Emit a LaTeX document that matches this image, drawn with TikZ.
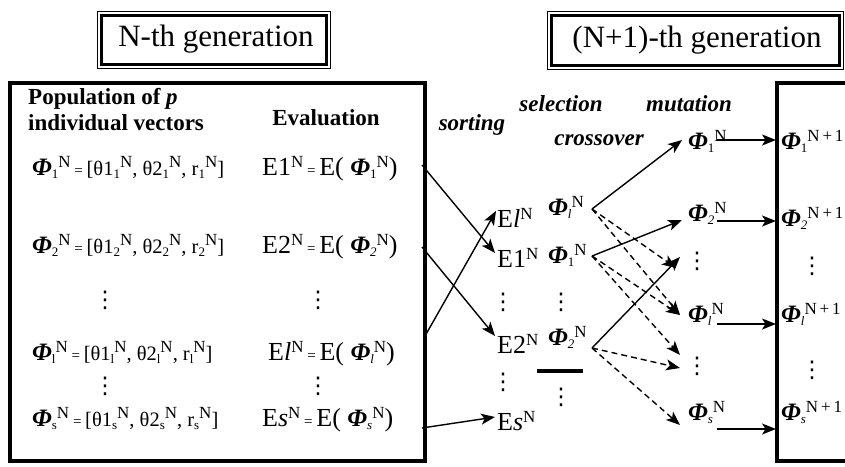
\documentclass[tikz,border=0pt]{standalone}
\usepackage{fontspec}
\setmainfont{Liberation Serif}
\newfontfamily\dvs{DejaVu Sans}
\usetikzlibrary{arrows.meta}
\newcommand\Su[1]{\raisebox{8pt}{\fontsize{17}{17}\selectfont #1}}
\newcommand\Sb[1]{\raisebox{-3pt}{\fontsize{13}{13}\selectfont #1}}
\newcommand\Ph{{\fontsize{25}{25}\selectfont\bfseries\itshape Φ}}
\newcommand\eqs{{\fontsize{15}{15}\selectfont\ =\ }}
\newcommand\Vd{{\dvs\fontsize{23}{23}\selectfont ⋮}}
\begin{document}
\begin{tikzpicture}[x=1pt,y=-1pt,
  lbl/.style={inner sep=0pt, anchor=base west},
  ctr/.style={inner sep=0pt, anchor=base},
  big/.style={font=\fontsize{26}{26}\selectfont},
  form/.style={lbl, font=\fontsize{20.5}{20.5}\selectfont},
  boldlbl/.style={font=\fontsize{23}{23}\selectfont\bfseries},
  oplbl/.style={ctr, font=\fontsize{23}{23}\selectfont\bfseries\itshape},
  hdr/.style={inner sep=0pt, font=\fontsize{31}{31}\selectfont},
  dotn/.style={inner sep=0pt},
  frame/.style={line width=3.5pt},
  arr/.style={-{Stealth[length=14pt,width=11pt,inset=3.5pt]}, line width=1.4pt},
  darr/.style={arr, dash pattern=on 6pt off 4pt}]
\useasboundingbox (0,0) rectangle (845,466);

% header boxes
\draw[line width=0.8pt] (97,11) rectangle (330,68);
\draw[line width=3pt] (101,15) rectangle (326,64);
\node[hdr] (g1) at (216,39.5) {N-th generation};
\draw[line width=0.8pt] (547,11) rectangle (843,69);
\draw[line width=3pt] (551,15) rectangle (839,65);
\node[hdr] (g2) at (697,40) {(N+1)-th generation};

% frames
\draw[frame] (10,83) rectangle (425,461);
\draw[frame] (777,83) rectangle (870,461);

% left box headings
\node[lbl,boldlbl] (pop1) at (28,104) {Population of \textit{p}};
\node[lbl,boldlbl] (pop2) at (28,130) {individual vectors};
\node[ctr,boldlbl] (ev) at (326,125) {Evaluation};

% left box rows
\node[form] (L1) at (32,175) {\Ph\Sb{1}\Su{N}\eqs[θ1\Sb{1}\Su{N}, θ2\Sb{1}\Su{N}, r\Sb{1}\Su{N}]};
\node[form] (L2) at (32,253) {\Ph\Sb{2}\Su{N}\eqs[θ1\Sb{2}\Su{N}, θ2\Sb{2}\Su{N}, r\Sb{2}\Su{N}]};
\node[form] (Ll) at (32,360) {\Ph\Sb{l}\Su{N}\eqs[θ1\Sb{l}\Su{N}, θ2\Sb{l}\Su{N}, r\Sb{l}\Su{N}]};
\node[form] (Ls) at (32,426) {\Ph\Sb{s}\Su{N}\eqs[θ1\Sb{s}\Su{N}, θ2\Sb{s}\Su{N}, r\Sb{s}\Su{N}]};
\node[dotn] (Ld1) at (105,300) {\Vd};
\node[dotn] (Ld2) at (105,386) {\Vd};

\node[lbl,big] (R1) at (262,175) {E1\Su{N}\eqs E(\ \Ph\Sb{1}\Su{N})};
\node[lbl,big] (R2) at (262,253) {E2\Su{N}\eqs E(\ \Ph\Sb{\textit{2}}\Su{N})};
\node[lbl,big] (Rl) at (268,360) {E\textit{l}\Su{N}\eqs E(\ \Ph\Sb{\textit{l}}\Su{N})};
\node[lbl,big] (Rs) at (262,426) {E\textit{s}\Su{N}\eqs E(\ \Ph\Sb{\textit{s}}\Su{N})};
\node[dotn] (Rd1) at (318,300) {\Vd};
\node[dotn] (Rd2) at (318,386) {\Vd};

% operation labels
\node[oplbl] (sort) at (472,130) {sorting};
\node[oplbl] (sel) at (561,111) {selection};
\node[oplbl] (cro) at (599,145) {crossover};
\node[oplbl] (mut) at (689,111) {mutation};

% sorted E column
\node[lbl,big] (El) at (497,227) {E\textit{l}\Su{N}};
\node[lbl,big] (E1) at (497,267) {E1\Su{N}};
\node[dotn] (Ed1) at (503,302) {\Vd};
\node[lbl,big] (E2) at (497,353) {E2\Su{N}};
\node[dotn] (Ed2) at (503,382) {\Vd};
\node[lbl,big] (Es) at (497,430) {E\textit{s}\Su{N}};

% selected column
\node[lbl] (Sl) at (548,215) {\Ph\Sb{\textit{l}}\Su{N}};
\node[lbl] (S1) at (548,263) {\Ph\Sb{1}\Su{N}};
\node[dotn] (Sd1) at (561,302) {\Vd};
\node[lbl] (S2) at (548,345) {\Ph\Sb{\textit{2}}\Su{N}};
\draw[line width=4pt] (537,371) -- (583,371);
\node[dotn] (Sd2) at (561,397) {\Vd};

% mutated column
\node[lbl] (M1) at (688,149) {\Ph\Sb{1}\Su{N}};
\node[lbl] (M2) at (688,221) {\Ph\Sb{\textit{2}}\Su{N}};
\node[dotn] (Md1) at (697,261) {\Vd};
\node[lbl] (Ml) at (688,322) {\Ph\Sb{\textit{l}}\Su{N}};
\node[dotn] (Md2) at (697,366) {\Vd};
\node[lbl] (Ms) at (688,420) {\Ph\Sb{\textit{s}}\Su{N}};

% next generation
\node[lbl] (N1) at (781,149) {\Ph\Sb{1}\Su{N\,+\,1}};
\node[lbl] (N2) at (781,226) {\Ph\Sb{\textit{2}}\Su{N\,+\,1}};
\node[dotn] (Nd1) at (812,266) {\Vd};
\node[lbl] (Nl) at (781,322) {\Ph\Sb{\textit{l}}\Su{N\,+\,1}};
\node[dotn] (Nd2) at (812,370) {\Vd};
\node[lbl] (Ns) at (781,420) {\Ph\Sb{\textit{s}}\Su{N\,+\,1}};

% connector end points
\coordinate (a1) at (422,165); \coordinate (b1) at (495,253);
\coordinate (a2) at (422,247); \coordinate (b2) at (495,336);
\coordinate (al) at (425,336); \coordinate (bl) at (496,211);
\coordinate (as) at (422,428); \coordinate (bs) at (495,417);
\coordinate (cl) at (592,209);
\coordinate (c1) at (592,256);
\coordinate (c2) at (592,348);
\coordinate (tM1) at (682,140);
\coordinate (tM2) at (682,220);
\coordinate (tMd1a) at (680,257);
\coordinate (tMd1b) at (676,268);
\coordinate (tMl) at (680,315);
\coordinate (tMd2a) at (680,355);
\coordinate (tMd2b) at (680,368);
\coordinate (tMs) at (680,425);
\coordinate (o1) at (717,140); \coordinate (p1) at (776,140);
\coordinate (o2) at (717,221); \coordinate (p2) at (776,221);
\coordinate (ol) at (717,324); \coordinate (pl) at (776,324);
\coordinate (os) at (717,429); \coordinate (ps) at (776,429);

% sorting
\draw[arr] (a1) -- (b1);
\draw[arr] (a2) -- (b2);
\draw[arr] (al) -- (bl);
\draw[arr] (as) -- (bs);
% selection / crossover
\draw[arr] (cl) -- (tM1);
\draw[arr] (c1) -- (tM2);
\draw[arr] (c2) -- (tMd1a);
\draw[darr] (cl) -- (tMd1b);
\draw[darr] (cl) -- (tMl);
\draw[darr] (c1) -- (tMl);
\draw[darr] (c1) -- (tMd2a);
\draw[darr] (c2) -- (tMd2b);
\draw[darr] (c2) -- (tMs);
% mutation
\draw[arr] (o1) -- (p1);
\draw[arr] (o2) -- (p2);
\draw[arr] (ol) -- (pl);
\draw[arr] (os) -- (ps);
\end{tikzpicture}
\end{document}
